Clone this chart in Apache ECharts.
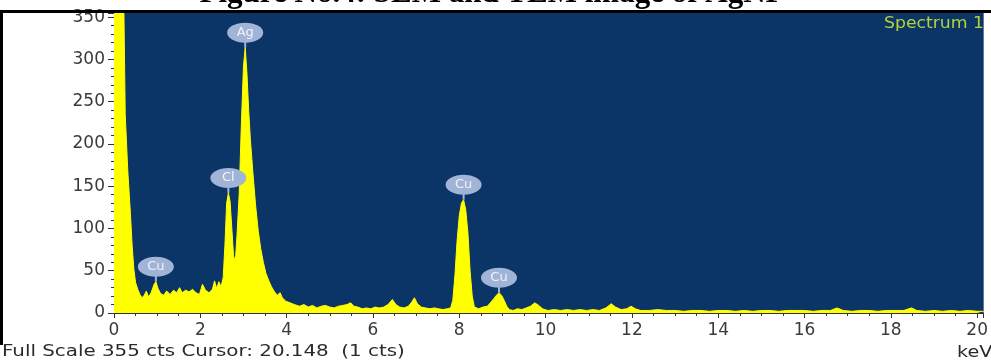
<!DOCTYPE html>
<html>
<head>
<meta charset="utf-8">
<script src="https://cdn.jsdelivr.net/npm/echarts@6/dist/echarts.min.js"></script>
<style>
  html, body { margin: 0; padding: 0; background: #fff; }
  #chart { width: 991px; height: 363px; }
</style>
</head>
<body>
<div id="chart"></div>
<script>
// EDS spectrum (keV vs counts)
const energy = [
  0.00, 0.10, 0.20, 0.23, 0.26, 0.32, 0.38, 0.42, 0.46, 0.50, 0.55, 0.60, 0.65, 0.70, 0.75, 0.80, 0.86, 0.93, 0.97,
  1.02, 1.08, 1.15, 1.22, 1.30, 1.38, 1.45, 1.52, 1.58, 1.66, 1.74, 1.82, 1.90, 1.98,
  2.05, 2.12, 2.20, 2.28, 2.33, 2.38, 2.43, 2.48, 2.53, 2.57, 2.61, 2.65, 2.69, 2.73, 2.77, 2.81, 2.85, 2.90, 2.95,
  3.00, 3.04, 3.08, 3.12, 3.16, 3.22, 3.28, 3.34, 3.40, 3.46, 3.52, 3.58, 3.65, 3.72, 3.78, 3.85, 3.90, 3.98,
  4.08, 4.18, 4.30, 4.40, 4.50, 4.60, 4.70, 4.80, 4.90, 5.00, 5.10, 5.20, 5.30, 5.40, 5.48, 5.56, 5.65, 5.75, 5.85, 5.95,
  6.05, 6.15, 6.25, 6.35, 6.45, 6.53, 6.62, 6.72, 6.82, 6.90, 6.96, 7.03, 7.12, 7.22, 7.32, 7.42, 7.52, 7.62, 7.72, 7.80,
  7.85, 7.90, 7.95, 8.00, 8.05, 8.10, 8.15, 8.20, 8.25, 8.30, 8.35, 8.45, 8.55, 8.65, 8.72, 8.80, 8.86, 8.92, 8.98,
  9.04, 9.10, 9.16, 9.25, 9.35, 9.45, 9.55, 9.65, 9.75, 9.84, 9.93,
  10.05, 10.2, 10.35, 10.5, 10.65, 10.8, 10.95, 11.1, 11.25, 11.4, 11.52, 11.62, 11.75, 11.88, 11.98,
  12.08, 12.2, 12.4, 12.6, 12.8, 13.0, 13.2, 13.4, 13.6, 13.8, 14.0, 14.2, 14.4, 14.6, 14.8, 15.0, 15.2, 15.4, 15.6, 15.8,
  16.0, 16.2, 16.4, 16.6, 16.75, 16.9, 17.1, 17.3, 17.5, 17.7, 17.9, 18.1, 18.3, 18.48, 18.6, 18.8, 19.0, 19.2, 19.4, 19.6, 19.8,
  20.0, 20.15
];
const counts = [
  620, 700, 520, 355, 235, 168, 118, 80, 52, 36, 28, 22, 18, 21, 26, 19, 24, 34, 37,
  29, 23, 21, 26, 22, 27, 24, 30, 24, 27, 25, 28, 24, 22,
  34, 27, 24, 28, 38, 29, 37, 31, 42, 80, 130, 142, 132, 100, 68, 60, 92, 140, 222,
  292, 314, 284, 240, 205, 165, 128, 98, 76, 60, 47, 39, 31, 25, 21, 24, 18, 14,
  12, 10, 8, 10, 7, 9, 6, 8, 9, 7, 6, 8, 9, 10, 12, 8, 7, 5, 6, 5,
  7, 6, 7, 10, 16, 10, 7, 6, 8, 13, 18, 11, 7, 6, 5, 6, 5, 4, 5, 6,
  15, 45, 86, 115, 130, 134, 122, 95, 50, 20, 7, 5, 7, 8, 12, 17, 21, 24, 21,
  15, 8, 4, 3, 5, 4, 6, 8, 12, 9, 5,
  3, 4, 3, 4, 3, 4, 3, 4, 3, 6, 11, 7, 4, 5, 8,
  5, 3, 3, 4, 3, 3, 2, 3, 3, 2, 3, 3, 2, 3, 2, 3, 3, 2, 3, 3,
  3, 2, 3, 3, 6, 3, 2, 3, 3, 2, 3, 3, 3, 6, 3, 2, 3, 2, 3, 2, 3,
  2, 2
];

// element labels placed on peaks
const peakNames = ['Cu', 'Cl', 'Ag', 'Cu', 'Cu'];
const peakKeV = [0.97, 2.65, 3.04, 8.10, 8.92];
const peakCts = [37, 142, 314, 134, 24];

const chart = echarts.init(document.getElementById('chart'));

const spectrum = energy.map((e, i) => [e, counts[i]]);

// ellipse + short stem, stem tip sits on the peak
const markerPath = 'path://M0,10 A18,10 0 1,1 36,10 A18,10 0 1,1 0,10 Z M17,19 L19,19 L19,25 L17,25 Z';

const option = {
  animation: false,
  backgroundColor: '#ffffff',
  grid: {
    left: 114,
    right: 0,
    top: 13,
    bottom: 50,
    show: true,
    backgroundColor: '#0b3467',
    borderWidth: 0
  },
  xAxis: {
    type: 'value',
    min: 0,
    max: 20.15,
    interval: 2,
    splitLine: { show: false },
    axisLine: { show: true, onZero: false, lineStyle: { color: '#333', width: 1 } },
    axisTick: { show: true, length: 5, lineStyle: { color: '#333' } },
    minorTick: { show: true, splitNumber: 4, length: 3, lineStyle: { color: '#333' } },
    axisLabel: {
      showMaxLabel: false,
      margin: 9,
      fontFamily: 'DejaVu Sans',
      fontSize: 17,
      color: '#3a3a3a'
    }
  },
  yAxis: {
    type: 'value',
    min: 0,
    max: 355,
    interval: 50,
    splitLine: { show: false },
    axisLine: { show: true, lineStyle: { color: '#333', width: 1 } },
    axisTick: { show: true, length: 6, lineStyle: { color: '#333' } },
    minorTick: { show: true, splitNumber: 5, length: 3, lineStyle: { color: '#333' } },
    axisLabel: {
      showMaxLabel: false,
      margin: 9,
      fontFamily: 'DejaVu Sans',
      fontSize: 17,
      color: '#3a3a3a'
    }
  },
  series: [
    {
      type: 'line',
      data: spectrum,
      symbol: 'none',
      clip: true,
      lineStyle: { color: '#ffff00', width: 1 },
      areaStyle: { color: '#ffff00', opacity: 1 },
      markPoint: {
        symbol: markerPath,
        symbolSize: [36, 25],
        symbolOffset: [0, -12.5],
        itemStyle: { color: '#a2b4d6' },
        label: {
          show: true,
          position: 'inside',
          offset: [0, -2.5],
          formatter: p => p.name,
          color: '#eef3fb',
          fontFamily: 'DejaVu Sans',
          fontSize: 13
        },
        data: peakNames.map((n, i) => ({ name: n, coord: [peakKeV[i], peakCts[i]] }))
      }
    }
  ],
  graphic: [
    // frame lines of the original panel
    { type: 'rect', shape: { x: 0, y: 10, width: 991, height: 3 }, style: { fill: '#000' }, z: 100 },
    { type: 'rect', shape: { x: 0, y: 10, width: 3, height: 335 }, style: { fill: '#000' }, z: 100 },
    {
      type: 'text', x: 492, y: 9, z: 100,
      style: {
        text: 'Figure No.4: SEM and TEM image of AgNP',
        font: 'bold 31px "Liberation Serif"',
        fill: '#000',
        align: 'center',
        verticalAlign: 'bottom'
      }
    },
    {
      type: 'text', x: 884, y: 24, z: 100, scaleX: 1.15,
      style: {
        text: 'Spectrum 1',
        font: '15px "DejaVu Sans"',
        fill: '#b4d23c',
        verticalAlign: 'middle'
      }
    },
    {
      type: 'text', x: 2, y: 352, z: 100, scaleX: 1.24,
      style: {
        text: 'Full Scale 355 cts Cursor: 20.148  (1 cts)',
        font: '16px "DejaVu Sans"',
        fill: '#2a2a2a',
        verticalAlign: 'middle'
      }
    },
    {
      type: 'text', x: 957, y: 353, z: 100, scaleX: 1.2,
      style: {
        text: 'keV',
        font: '16px "DejaVu Sans"',
        fill: '#2a2a2a',
        verticalAlign: 'middle'
      }
    }
  ]
};

chart.setOption(option);
</script>
</body>
</html>
